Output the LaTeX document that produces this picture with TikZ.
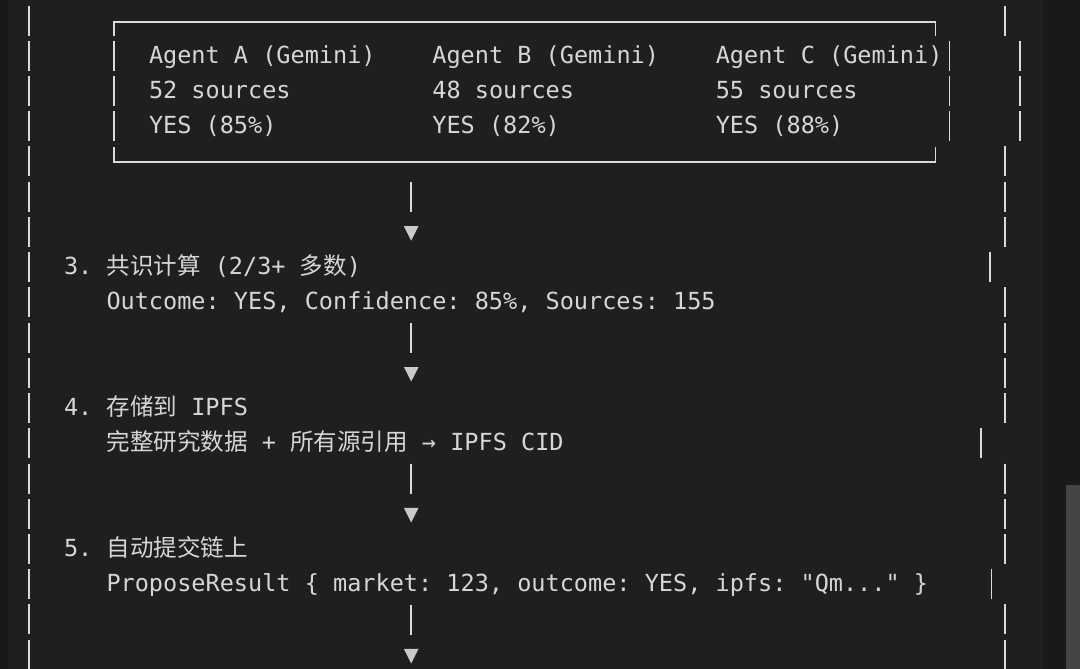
\documentclass[tikz,border=0pt]{standalone}
\usepackage{fontspec}
\newfontfamily\monof{DejaVu Sans Mono}
\newfontfamily\cjkf{Noto Sans CJK SC}
\definecolor{bgc}{HTML}{1F1F1F}
\definecolor{edgec}{HTML}{181818}
\definecolor{panelc}{HTML}{191919}
\definecolor{scrollc}{HTML}{444444}
\definecolor{fgc}{HTML}{D6D6D6}
\definecolor{linec}{HTML}{DADADA}
\definecolor{tric}{HTML}{CACACA}
\newcommand{\zh}[1]{{\cjkf #1}}
\tikzset{
  txt/.style={anchor=base west, inner sep=0pt, outer sep=0pt, text=fgc,
    font=\monof\fontsize{23.53pt}{28pt}\selectfont\frenchspacing},
  bar/.style={draw=linec, line width=1.9pt},
  boxline/.style={draw=linec, line width=1.8pt},
  tri/.style={fill=tric},
}
\begin{document}
\begin{tikzpicture}[x=1pt,y=-1pt]
\useasboundingbox (0,0) rectangle (1080,669);
% background
\fill[bgc] (0,0) rectangle (1080,669);
\fill[edgec] (0,0) rectangle (7.5,669);
\fill[panelc] (1042.7,0) rectangle (1080,669);
\fill[scrollc] (1066,485) rectangle (1080,669);

% outer frame bars: left side, every row
\foreach \r in {0,...,18}
  \draw[bar] (28.6,{4.77+35.23*\r+0.8}) -- ++(0,30);
% outer frame bars: right side, per row
\foreach \r/\xr in {0/1005,1/1020,2/1020,3/1020,4/1005,5/1005,6/1005,7/990.4,
  8/1005,9/1005,10/1005,11/1005,12/981.1,13/1005,14/1005,15/1005,16/991.5,17/1005,18/1005}
  \draw[bar] (\xr,{4.77+35.23*\r+0.8}) -- ++(0,30);

% agents box
\coordinate (boxtl) at (113.6,22);
\coordinate (boxtr) at (935.5,22);
\coordinate (boxbl) at (113.6,162.3);
\coordinate (boxbr) at (935.5,162.3);
\draw[boxline] (113.6,35.6) -- (boxtl) -- (boxtr) -- (935.5,35.6);
\draw[boxline] (113.6,146.5) -- (boxbl) -- (boxbr) -- (935.5,146.5);
\foreach \r in {1,2,3} {
  \draw[bar] (113.6,{4.77+35.23*\r+0.8}) -- ++(0,30);
  \draw[bar] (949.5,{4.77+35.23*\r+0.8}) -- ++(0,30);
}

% agent texts
\node[txt] (agA1) at (149.0,63.33) {Agent A (Gemini)};
\node[txt] (agA2) at (149.0,98.56) {52 sources};
\node[txt] (agA3) at (149.0,133.79) {YES (85\%)};
\node[txt] (agB1) at (432.4,63.33) {Agent B (Gemini)};
\node[txt] (agB2) at (432.4,98.56) {48 sources};
\node[txt] (agB3) at (432.4,133.79) {YES (82\%)};
\node[txt] (agC1) at (715.8,63.33) {Agent C (Gemini)};
\node[txt] (agC2) at (715.8,98.56) {55 sources};
\node[txt] (agC3) at (715.8,133.79) {YES (88\%)};

% steps
\node[txt] (s3n) at (64.0,274.71) {3.};
\node[txt] (s3t) at (106.5,274.71) {\zh{共识计算} (2/3+ \zh{多数})};
\node[txt] (s3d) at (106.5,309.94) {Outcome: YES, Confidence: 85\%, Sources: 155};
\node[txt] (s4n) at (64.0,415.63) {4.};
\node[txt] (s4t) at (106.5,415.63) {\zh{存储到} IPFS};
\node[txt] (s4d) at (106.5,450.86) {\zh{完整研究数据} + \zh{所有源引用} → IPFS CID};
\node[txt] (s5n) at (64.0,556.55) {5.};
\node[txt] (s5t) at (106.5,556.55) {\zh{自动提交链上}};
\node[txt] (s5d) at (106.5,591.78) {ProposeResult \{ market: 123, outcome: YES, ipfs: "Qm..." \}};

% connectors: bar then arrowhead
\foreach \k/\rb in {1/5,2/9,3/13,4/17} {
  \coordinate (c\k a) at (411.2,{4.77+35.23*\rb+1});
  \coordinate (c\k b) at (411.2,{4.77+35.23*\rb+31});
  \coordinate (c\k t) at (411.2,{4.77+35.23*(\rb+1)+10});
  \draw[bar] (c\k a) -- (c\k b);
  \fill[tri] (c\k t) ++(-7.3,0) -- ++(14.6,0) -- ++(-7.3,14.5) -- cycle;
}
\end{tikzpicture}
\end{document}
